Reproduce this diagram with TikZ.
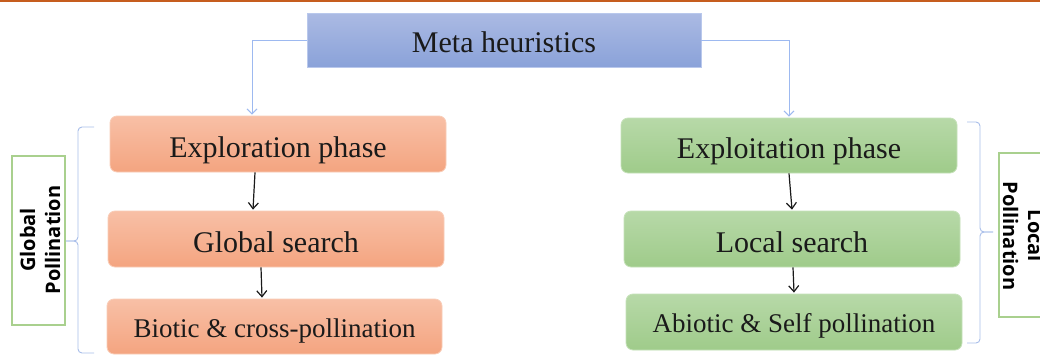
\documentclass[tikz,border=0pt]{standalone}
\usepackage{fontspec}
\setmainfont{Liberation Serif}
\newfontfamily\lblfont{Open Sans}
\usetikzlibrary{calc,arrows.meta}
\definecolor{orTop}{HTML}{F8C0A6}
\definecolor{orBot}{HTML}{F4A480}
\definecolor{orEdge}{HTML}{F9CDB8}
\definecolor{grTop}{HTML}{B7D9A8}
\definecolor{grBot}{HTML}{9FCB8A}
\definecolor{grEdge}{HTML}{C6E2BA}
\definecolor{blTop}{HTML}{ABBAE3}
\definecolor{blBot}{HTML}{8AA2D9}
\definecolor{blEdge}{HTML}{B9C8EC}
\definecolor{conn}{HTML}{9DB9F0}
\definecolor{brace}{HTML}{A8BEEA}
\definecolor{lblEdge}{HTML}{A9D08E}
\definecolor{topLine}{HTML}{C65D1E}
\definecolor{ink}{HTML}{1A1A1A}
\begin{document}
\begin{tikzpicture}[x=1pt,y=-1pt,
  box/.style={rounded corners=7pt, inner sep=0pt, text=ink, line width=0.8pt,
    minimum width=336pt, minimum height=56pt, font=\fontsize{30}{36}\selectfont,
    text height=26pt, text depth=0pt},
  smalltext/.style={font=\fontsize{27}{32}\selectfont, text height=21pt, text depth=0pt},
  orbox/.style={box, top color=orTop, bottom color=orBot, draw=orEdge},
  grbox/.style={box, top color=grTop, bottom color=grBot, draw=grEdge},
  blbox/.style={box, rounded corners=0pt, top color=blTop, bottom color=blBot, draw=blEdge,
    minimum width=394pt, minimum height=54pt, text height=24pt},
  arr/.style={-{Straight Barb[length=6pt,width=10pt]}, line width=1.2pt, ink},
  bconn/.style={-{Straight Barb[length=5pt,width=10pt]}, line width=1pt, conn},
  bracestyle/.style={line width=0.9pt, brace, rounded corners=4pt},
  lblbox/.style={draw=lblEdge, line width=1.3pt, fill=white},
  lbl/.style={font=\lblfont\bfseries\fontsize{20}{25}\selectfont, align=center, text=black, inner sep=0pt}
]
\useasboundingbox (0,0) rectangle (1040,354);
\fill[white] (0,0) rectangle (1040,354);
\draw[topLine, line width=2.2pt] (0,1) -- (1040,1);

\node[blbox] (meta) at (504,40) {Meta heuristics};
\node[orbox] (expl) at (278,144) {Exploration phase};
\node[orbox] (glob) at (276,239) {Global search};
\node[orbox, smalltext, minimum width=335pt, minimum height=55pt] (bio) at (274.5,326.5) {Biotic \& cross-pollination};
\node[grbox, minimum height=55pt] (exploit) at (789,145.5) {Exploitation phase};
\node[grbox] (loc) at (792,239) {Local search};
\node[grbox, smalltext] (abio) at (794,322) {Abiotic \& Self pollination};

\draw[bconn] (meta.west) -| ($(expl.north)+(-26,-1)$);
\draw[bconn] (meta.east) -| ($(exploit.north)+(0,-1)$);

\draw[arr] ($(expl.south)+(-23,0)$) -- ($(glob.north)+(-23,-1)$);
\draw[arr] ($(glob.south)+(-15,0)$) -- ($(bio.north)+(-12.5,-1)$);
\draw[arr] (exploit.south) -- ($(loc.north)+(0,-1)$);
\draw[arr] ($(loc.south)+(1,0)$) -- ($(abio.north)+(0,-1)$);

% braces
\coordinate (lbT) at (94,127);
\coordinate (lbM) at (66,241);
\coordinate (lbB) at (94,353);
\draw[bracestyle] (lbT) -- (78,127) -- (78,241) -- (lbM);
\draw[bracestyle] (lbM) -- (78,241) -- (78,353) -- (lbB);
\coordinate (rbT) at (967,122);
\coordinate (rbM) at (993,232);
\coordinate (rbB) at (967,343);
\draw[bracestyle] (rbT) -- (980,122) -- (980,232) -- (rbM);
\draw[bracestyle] (rbM) -- (980,232) -- (980,343) -- (rbB);

% side labels
\draw[lblbox] (12,156) rectangle (65,325);
\node[lbl, rotate=90] (glab) at (40,240) {Global\\Pollination};
\draw[lblbox] (999,153) rectangle (1050,317);
\node[lbl, rotate=-90] (llab) at (1023,236) {Local\\Pollination};
\end{tikzpicture}
\end{document}
